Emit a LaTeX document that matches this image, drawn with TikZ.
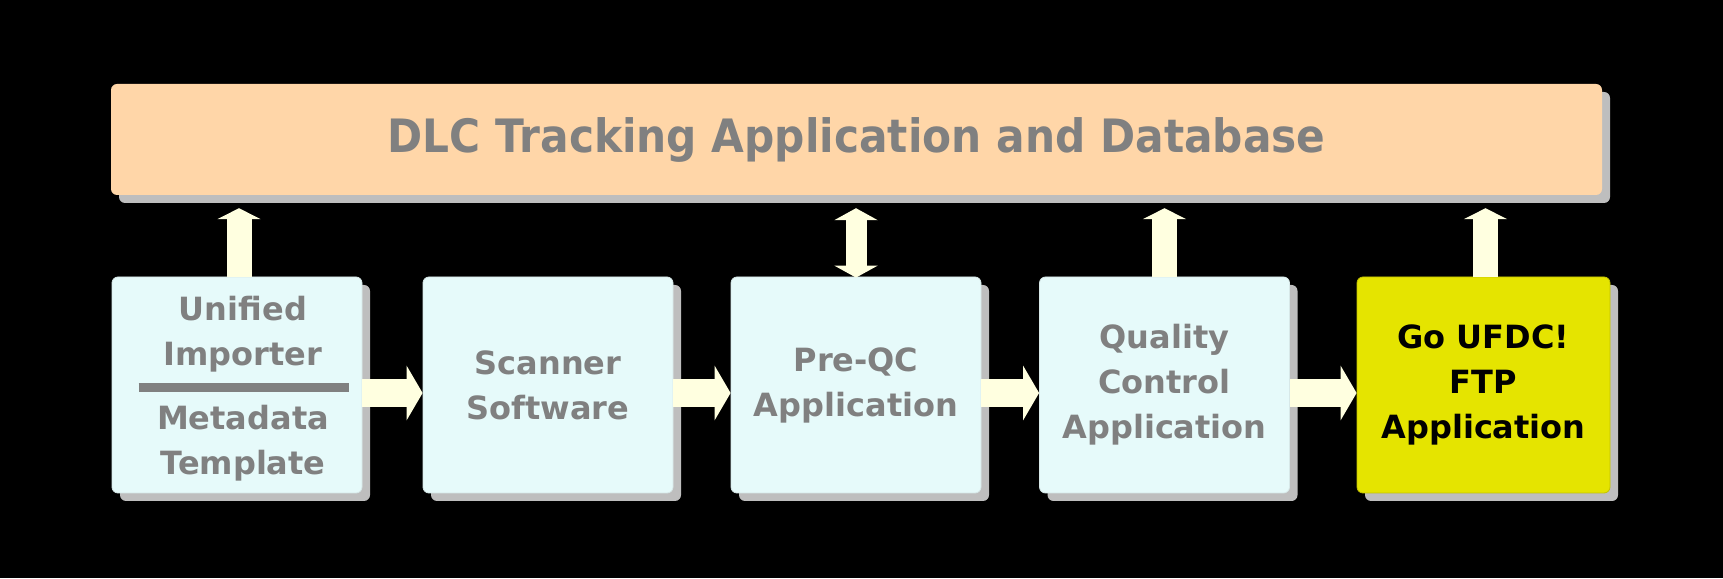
\documentclass[tikz,border=0pt]{standalone}
\usepackage{fontspec}
\setmainfont{DejaVu Sans}
\newfontfamily\titlefont{DejaVu Sans}[FakeStretch=0.92]
\usetikzlibrary{arrows.meta,shadows,calc}
\definecolor{peach}{HTML}{FFD6A8}
\definecolor{boxfill}{HTML}{E6FAFA}
\definecolor{ylw}{HTML}{E5E400}
\definecolor{txtgray}{HTML}{808080}
\definecolor{cream}{HTML}{FFFFE0}
\definecolor{shadowgray}{HTML}{BEBEBE}
\begin{document}
\begin{tikzpicture}[x=1pt,y=1pt,
  shadowed/.style={drop shadow={shadow xshift=8pt,shadow yshift=-8pt,opacity=1,fill=shadowgray}},
  bar/.style={shadowed,rounded corners=6pt,fill=peach,minimum width=1491pt,minimum height=111pt,inner sep=0pt,
    text=txtgray,font=\titlefont\bfseries\fontsize{46}{52}\selectfont},
  procbox/.style={shadowed,rounded corners=6pt,fill=boxfill,draw=boxfill!85!gray,line width=0.8pt,
    minimum width=250pt,minimum height=216pt,inner sep=0pt,align=center,
    text=txtgray,font=\bfseries\fontsize{32}{45}\selectfont},
  hibox/.style={procbox,fill=ylw,draw=ylw!85!black,text=black},
  harrow/.style={draw=cream,line width=28pt,-{Triangle[width=54pt,length=16pt,fill=cream]}},
  varrow/.style={draw=cream,line width=25pt,-{Triangle[width=43pt,length=11pt,fill=cream]}},
  dvarrow/.style={draw=cream,line width=21pt,{Triangle[width=43pt,length=12pt,fill=cream]}-{Triangle[width=43pt,length=12pt,fill=cream]}},
  sepline/.style={draw=txtgray,line width=9pt}
]
\useasboundingbox (0,0) rectangle (1723,578);
\fill[black] (0,0) rectangle (1723,578);

\node[bar] (db) at (856.5,438.5) {DLC Tracking Application and Database};

\node[procbox] (b1) at (237,193) {};
\node[txtgray,font=\bfseries\fontsize{32}{45}\selectfont,align=center,inner sep=0pt] (t1) at (243,189)
  {Unified\\Importer\\[19pt]Metadata\\Template};
\node[procbox] (b2) at (548,193) {Scanner\\Software};
\node[procbox] (b3) at (856,193) {Pre-QC\\Application};
\node[procbox] (b4) at (1164.5,193) {Quality\\Control\\Application};
\node[hibox,minimum width=253pt] (b5) at (1483.5,193) {Go UFDC!\\FTP\\Application};

\coordinate (s1) at ($(b1.west)+(27,-3)$);
\coordinate (s2) at ($(b1.east)+(-13,-3)$);
\draw[sepline] (s1) -- (s2);

\draw[harrow] ($(b1.east)+(0,-8)$) -- ($(b2.west)+(0,-8)$);
\draw[harrow] ($(b2.east)+(0,-8)$) -- ($(b3.west)+(0,-8)$);
\draw[harrow] ($(b3.east)+(0,-8)$) -- ($(b4.west)+(0,-8)$);
\draw[harrow] ($(b4.east)+(0,-8)$) -- ($(b5.west)+(0,-8)$);

\draw[varrow] ($(b1.north)+(2,0)$) -- ($(b1.north |- db.south)+(2,-13)$);
\draw[dvarrow] ($(b3.north)+(0,-1)$) -- ($(b3.north |- db.south)+(0,-13)$);
\draw[varrow] (b4.north) -- ($(b4.north |- db.south)+(0,-13)$);
\draw[varrow] ($(b5.north)+(2,0)$) -- ($(b5.north |- db.south)+(2,-13)$);
\end{tikzpicture}
\end{document}
